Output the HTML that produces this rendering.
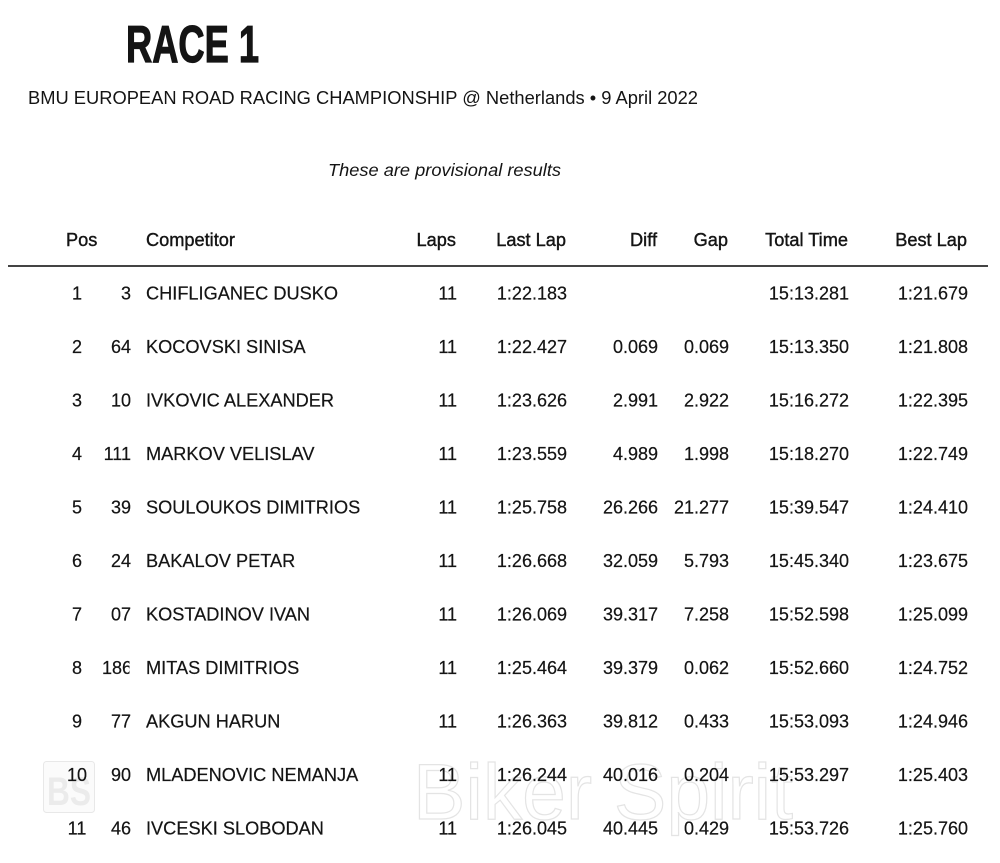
<!DOCTYPE html>
<html><head><meta charset="utf-8"><style>
html,body{margin:0;padding:0;background:#fff;}
svg{display:block;}
text{font-family:"Liberation Sans",Arial,sans-serif;fill:#141414;}
.r{font-size:18px;stroke:#141414;stroke-width:0.2px;}
.n{font-size:18.2px;}
.h{font-size:18.2px;stroke:#141414;stroke-width:0.4px;}
</style></head><body>
<svg width="1000" height="863" viewBox="0 0 1000 863" xmlns="http://www.w3.org/2000/svg">
<defs><clipPath id="c186"><rect x="90" y="640" width="39.5" height="40"/></clipPath></defs>
<!-- watermark -->
<rect x="43.5" y="761.5" width="51" height="51" rx="3" fill="#fbfbfb" stroke="#e8e8e8" stroke-width="1"/>
<text x="47" y="805" style="font-size:40px;font-weight:bold;fill:#ebebeb;" textLength="44" lengthAdjust="spacingAndGlyphs">BS</text>
<text x="413" y="819" style="font-size:79px;fill:#fff;stroke:#e4e4e4;stroke-width:1.2px;" textLength="380" lengthAdjust="spacingAndGlyphs">Biker Spirit</text>

<text x="126" y="62" style="font-family:'Liberation Sans Narrow','Liberation Sans',sans-serif;font-size:52px;font-weight:bold;stroke:#141414;stroke-width:1.2px;" textLength="133" lengthAdjust="spacingAndGlyphs">RACE 1</text>
<text x="28" y="104" style="font-size:18px;" textLength="670" lengthAdjust="spacingAndGlyphs">BMU EUROPEAN ROAD RACING CHAMPIONSHIP @ Netherlands • 9 April 2022</text>
<text x="328" y="176" style="font-size:17.5px;font-style:italic;" textLength="233" lengthAdjust="spacingAndGlyphs">These are provisional results</text>

<g class="h">
<text x="66" y="246">Pos</text>
<text x="146" y="246">Competitor</text>
<text x="456" y="246" text-anchor="end">Laps</text>
<text x="566" y="246" text-anchor="end">Last Lap</text>
<text x="657" y="246" text-anchor="end">Diff</text>
<text x="728" y="246" text-anchor="end">Gap</text>
<text x="848" y="246" text-anchor="end">Total Time</text>
<text x="967" y="246" text-anchor="end">Best Lap</text>
</g>
<rect x="8" y="265" width="980" height="2" fill="#444"/>

<g class="r">
<!-- row 1 -->
<text x="77" y="299.5" text-anchor="middle">1</text><text x="131" y="299.5" text-anchor="end">3</text>
<text class="n" x="146" y="299.5">CHIFLIGANEC DUSKO</text>
<text x="457" y="299.5" text-anchor="end">11</text><text x="567" y="299.5" text-anchor="end">1:22.183</text>
<text x="849" y="299.5" text-anchor="end">15:13.281</text><text x="968" y="299.5" text-anchor="end">1:21.679</text>
<!-- row 2 -->
<text x="77" y="353" text-anchor="middle">2</text><text x="131" y="353" text-anchor="end">64</text>
<text class="n" x="146" y="353">KOCOVSKI SINISA</text>
<text x="457" y="353" text-anchor="end">11</text><text x="567" y="353" text-anchor="end">1:22.427</text>
<text x="658" y="353" text-anchor="end">0.069</text><text x="729" y="353" text-anchor="end">0.069</text>
<text x="849" y="353" text-anchor="end">15:13.350</text><text x="968" y="353" text-anchor="end">1:21.808</text>
<!-- row 3 -->
<text x="77" y="406.5" text-anchor="middle">3</text><text x="131" y="406.5" text-anchor="end">10</text>
<text class="n" x="146" y="406.5">IVKOVIC ALEXANDER</text>
<text x="457" y="406.5" text-anchor="end">11</text><text x="567" y="406.5" text-anchor="end">1:23.626</text>
<text x="658" y="406.5" text-anchor="end">2.991</text><text x="729" y="406.5" text-anchor="end">2.922</text>
<text x="849" y="406.5" text-anchor="end">15:16.272</text><text x="968" y="406.5" text-anchor="end">1:22.395</text>
<!-- row 4 -->
<text x="77" y="460" text-anchor="middle">4</text><text x="131" y="460" text-anchor="end">111</text>
<text class="n" x="146" y="460">MARKOV VELISLAV</text>
<text x="457" y="460" text-anchor="end">11</text><text x="567" y="460" text-anchor="end">1:23.559</text>
<text x="658" y="460" text-anchor="end">4.989</text><text x="729" y="460" text-anchor="end">1.998</text>
<text x="849" y="460" text-anchor="end">15:18.270</text><text x="968" y="460" text-anchor="end">1:22.749</text>
<!-- row 5 -->
<text x="77" y="513.5" text-anchor="middle">5</text><text x="131" y="513.5" text-anchor="end">39</text>
<text class="n" x="146" y="513.5">SOULOUKOS DIMITRIOS</text>
<text x="457" y="513.5" text-anchor="end">11</text><text x="567" y="513.5" text-anchor="end">1:25.758</text>
<text x="658" y="513.5" text-anchor="end">26.266</text><text x="729" y="513.5" text-anchor="end">21.277</text>
<text x="849" y="513.5" text-anchor="end">15:39.547</text><text x="968" y="513.5" text-anchor="end">1:24.410</text>
<!-- row 6 -->
<text x="77" y="567" text-anchor="middle">6</text><text x="131" y="567" text-anchor="end">24</text>
<text class="n" x="146" y="567">BAKALOV PETAR</text>
<text x="457" y="567" text-anchor="end">11</text><text x="567" y="567" text-anchor="end">1:26.668</text>
<text x="658" y="567" text-anchor="end">32.059</text><text x="729" y="567" text-anchor="end">5.793</text>
<text x="849" y="567" text-anchor="end">15:45.340</text><text x="968" y="567" text-anchor="end">1:23.675</text>
<!-- row 7 -->
<text x="77" y="620.5" text-anchor="middle">7</text><text x="131" y="620.5" text-anchor="end">07</text>
<text class="n" x="146" y="620.5">KOSTADINOV IVAN</text>
<text x="457" y="620.5" text-anchor="end">11</text><text x="567" y="620.5" text-anchor="end">1:26.069</text>
<text x="658" y="620.5" text-anchor="end">39.317</text><text x="729" y="620.5" text-anchor="end">7.258</text>
<text x="849" y="620.5" text-anchor="end">15:52.598</text><text x="968" y="620.5" text-anchor="end">1:25.099</text>
<!-- row 8 -->
<text x="77" y="674" text-anchor="middle">8</text><text x="102" y="674" clip-path="url(#c186)">186</text>
<text class="n" x="146" y="674">MITAS DIMITRIOS</text>
<text x="457" y="674" text-anchor="end">11</text><text x="567" y="674" text-anchor="end">1:25.464</text>
<text x="658" y="674" text-anchor="end">39.379</text><text x="729" y="674" text-anchor="end">0.062</text>
<text x="849" y="674" text-anchor="end">15:52.660</text><text x="968" y="674" text-anchor="end">1:24.752</text>
<!-- row 9 -->
<text x="77" y="727.5" text-anchor="middle">9</text><text x="131" y="727.5" text-anchor="end">77</text>
<text class="n" x="146" y="727.5">AKGUN HARUN</text>
<text x="457" y="727.5" text-anchor="end">11</text><text x="567" y="727.5" text-anchor="end">1:26.363</text>
<text x="658" y="727.5" text-anchor="end">39.812</text><text x="729" y="727.5" text-anchor="end">0.433</text>
<text x="849" y="727.5" text-anchor="end">15:53.093</text><text x="968" y="727.5" text-anchor="end">1:24.946</text>
<!-- row 10 -->
<text x="77" y="781" text-anchor="middle">10</text><text x="131" y="781" text-anchor="end">90</text>
<text class="n" x="146" y="781">MLADENOVIC NEMANJA</text>
<text x="457" y="781" text-anchor="end">11</text><text x="567" y="781" text-anchor="end">1:26.244</text>
<text x="658" y="781" text-anchor="end">40.016</text><text x="729" y="781" text-anchor="end">0.204</text>
<text x="849" y="781" text-anchor="end">15:53.297</text><text x="968" y="781" text-anchor="end">1:25.403</text>
<!-- row 11 -->
<text x="77" y="834.5" text-anchor="middle">11</text><text x="131" y="834.5" text-anchor="end">46</text>
<text class="n" x="146" y="834.5">IVCESKI SLOBODAN</text>
<text x="457" y="834.5" text-anchor="end">11</text><text x="567" y="834.5" text-anchor="end">1:26.045</text>
<text x="658" y="834.5" text-anchor="end">40.445</text><text x="729" y="834.5" text-anchor="end">0.429</text>
<text x="849" y="834.5" text-anchor="end">15:53.726</text><text x="968" y="834.5" text-anchor="end">1:25.760</text>
</g>
</svg>
</body></html>
